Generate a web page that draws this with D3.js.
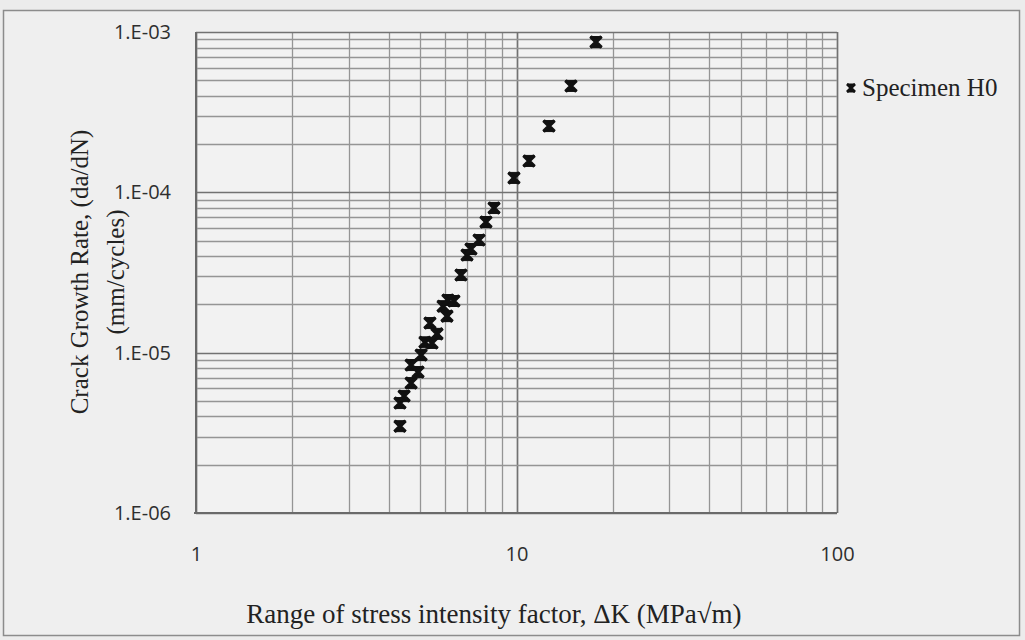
<!DOCTYPE html>
<html>
<head>
<meta charset="utf-8">
<script src="https://cdn.jsdelivr.net/npm/d3@7"></script>
<style>
  html, body { margin: 0; padding: 0; background: #ececec; }
  svg { display: block; }
</style>
</head>
<body>
<svg id="chart" width="1025" height="640"></svg>
<script>
// Stress intensity factor range, ΔK (MPa√m)
const deltaK = [4.33, 4.33, 4.46, 4.69, 4.69, 4.93, 5.04, 5.18, 5.45, 5.37,
                5.65, 5.90, 6.07, 6.11, 6.38, 6.71, 7.01, 7.21, 7.64, 8.03,
                8.51, 9.82, 10.94, 12.63, 14.79, 17.70];
// Crack growth rate, da/dN (mm/cycle)
const dadN = [3.48e-6, 4.85e-6, 5.36e-6, 6.46e-6, 8.37e-6, 7.57e-6, 9.66e-6, 1.16e-5, 1.15e-5, 1.53e-5,
              1.31e-5, 1.95e-5, 1.69e-5, 2.13e-5, 2.10e-5, 3.05e-5, 4.06e-5, 4.43e-5, 5.04e-5, 6.53e-5,
              7.98e-5, 1.23e-4, 1.57e-4, 2.59e-4, 4.61e-4, 8.66e-4];
const xTicks = [1, 10, 100];
const yTicks = [1e-6, 1e-5, 1e-4, 1e-3];
const yTickLabels = ["1.E-06", "1.E-05", "1.E-04", "1.E-03"];
const seriesName = "Specimen H0";

const svg = d3.select("#chart");
const plot = { left: 196, right: 837, top: 32, bottom: 513 };
const serif = "'Liberation Serif', 'Times New Roman', serif";
const sans = "'Open Sans', 'Noto Sans', sans-serif";

// outer frame
svg.append("rect")
  .attr("x", 3.5).attr("y", 10.5).attr("width", 1016).attr("height", 625)
  .attr("fill", "#efefef").attr("stroke", "#8c8c8c").attr("stroke-width", 1.5);

const x = d3.scaleLog().domain([1, 100]).range([plot.left, plot.right]);
const y = d3.scaleLog().domain([1e-6, 1e-3]).range([plot.bottom, plot.top]);

// plot area
svg.append("rect")
  .attr("x", plot.left).attr("y", plot.top)
  .attr("width", plot.right - plot.left).attr("height", plot.bottom - plot.top)
  .attr("fill", "#f2f2f2");

// minor and major grid values
const xGrid = [];
for (let d = 1; d < 100; d *= 10) for (let m = 1; m <= 9; m++) xGrid.push(d * m);
xGrid.push(100);
const yGrid = [];
for (let e = -6; e < -3; e++) for (let m = 1; m <= 9; m++) yGrid.push(m * Math.pow(10, e));
yGrid.push(1e-3);
const isMajorY = d => yTicks.some(t => Math.abs(t - d) / t < 1e-9);

const grid = svg.append("g");
grid.selectAll("line.v").data(xGrid).join("line")
  .attr("x1", d => Math.round(x(d)) + 0.5).attr("x2", d => Math.round(x(d)) + 0.5)
  .attr("y1", plot.top).attr("y2", plot.bottom)
  .attr("stroke", d => xTicks.includes(d) ? "#727272" : "#959595")
  .attr("stroke-width", d => xTicks.includes(d) ? 1.7 : 1.3);
grid.selectAll("line.h").data(yGrid).join("line")
  .attr("y1", d => Math.round(y(d)) + 0.5).attr("y2", d => Math.round(y(d)) + 0.5)
  .attr("x1", plot.left).attr("x2", plot.right)
  .attr("stroke", d => isMajorY(d) ? "#727272" : "#959595")
  .attr("stroke-width", d => isMajorY(d) ? 1.7 : 1.3);

// axis lines
svg.append("line").attr("x1", plot.left).attr("x2", plot.left)
  .attr("y1", plot.top).attr("y2", plot.bottom).attr("stroke", "#6a6a6a").attr("stroke-width", 2);
svg.append("line").attr("x1", plot.left - 2).attr("x2", plot.right)
  .attr("y1", plot.bottom).attr("y2", plot.bottom).attr("stroke", "#6a6a6a").attr("stroke-width", 2);

// tick labels via axis generators
const xAxis = d3.axisBottom(x).tickValues(xTicks).tickFormat(d3.format("d")).tickSize(0).tickPadding(34);
const gx = svg.append("g").attr("transform", `translate(0,${plot.bottom})`).call(xAxis);
gx.select(".domain").remove();
gx.selectAll("text").attr("font-family", sans).attr("font-size", 20).attr("fill", "#2e2e2e");

const yAxis = d3.axisLeft(y).tickValues(yTicks).tickFormat((d, i) => yTickLabels[i]).tickSize(0).tickPadding(25);
const gy = svg.append("g").attr("transform", `translate(${plot.left},0)`).call(yAxis);
gy.select(".domain").remove();
gy.selectAll("text").attr("font-family", sans).attr("font-size", 20).attr("fill", "#2e2e2e");

// marker: filled hourglass with a heavy cross over it
function marker(sel, s, w) {
  sel.append("path")
    .attr("d", `M${-s},${-s}L${s},${-s}L${-s},${s}L${s},${s}Z`)
    .attr("fill", "#111").attr("stroke", "#111").attr("stroke-width", 1).attr("stroke-linejoin", "round");
  sel.append("path")
    .attr("d", `M${-s},${-s}L${s},${s}M${s},${-s}L${-s},${s}`)
    .attr("stroke", "#111").attr("stroke-width", w).attr("fill", "none");
}

const pts = deltaK.map((k, i) => ({ k, r: dadN[i] }));
const gp = svg.append("g");
pts.forEach(p => {
  const g = gp.append("g").attr("transform", `translate(${x(p.k)},${y(p.r)})`);
  marker(g, 5.5, 3.6);
});

// legend
const lg = svg.append("g").attr("transform", "translate(851,88)");
marker(lg.append("g"), 4, 2.8);
lg.append("text").attr("x", 11).attr("y", 8)
  .attr("font-family", serif).attr("font-size", 25).attr("fill", "#222").text(seriesName);

// axis titles
svg.append("text")
  .attr("x", 494).attr("y", 623)
  .attr("text-anchor", "middle")
  .attr("font-family", serif).attr("font-size", 27).attr("fill", "#222")
  .text("Range of stress intensity factor, ΔK (MPa√m)");

const yt = svg.append("text")
  .attr("transform", "translate(0,272) rotate(-90)")
  .attr("text-anchor", "middle")
  .attr("font-family", serif).attr("font-size", 25).attr("fill", "#222");
yt.append("tspan").attr("x", 0).attr("y", 88).text("Crack Growth Rate, (da/dN)");
yt.append("tspan").attr("x", 0).attr("y", 124).text("(mm/cycles)");
</script>
</body>
</html>
